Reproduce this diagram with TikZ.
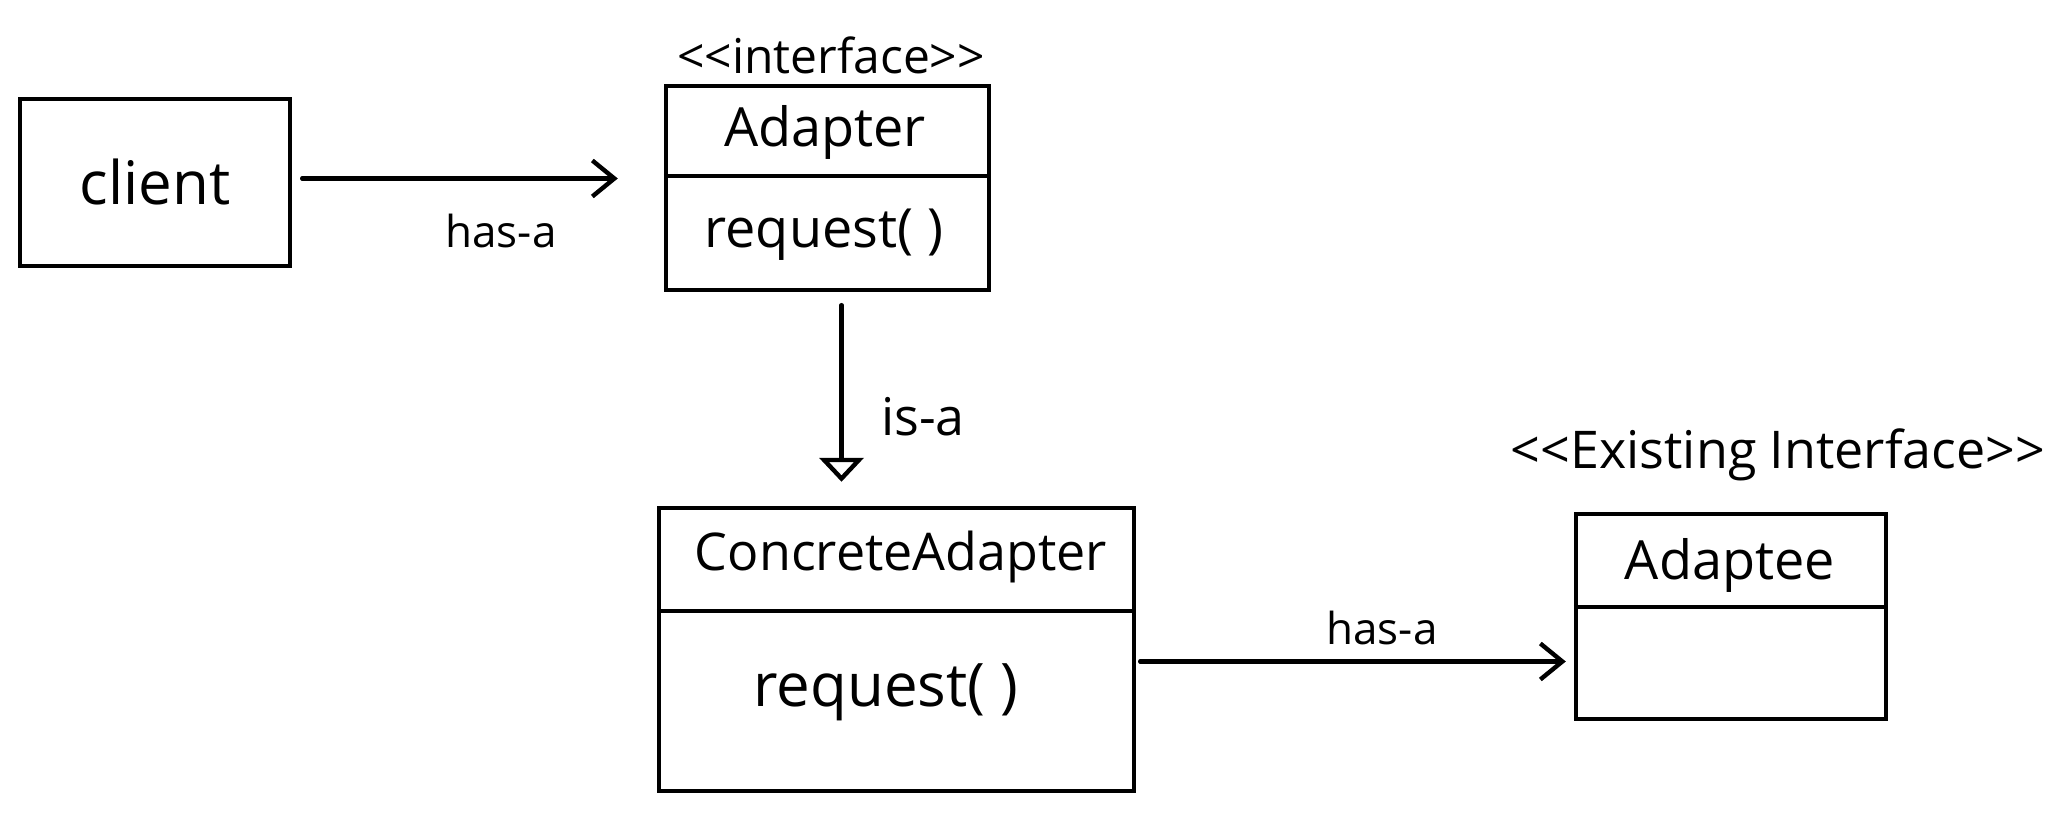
\documentclass[tikz,border=0pt]{standalone}
\usepackage{fontspec}
\setmainfont{Open Sans}
\usetikzlibrary{arrows.meta}

\tikzset{
  classbox/.style={draw, line width=2.2pt, inner sep=0pt},
  titletext/.style={font=\fontsize{27}{32}\selectfont, inner sep=1pt},
  methodtext/.style={font=\fontsize{27}{32}\selectfont, inner sep=1pt},
  stereotext/.style={font=\fontsize{24}{28}\selectfont, inner sep=1pt},
  reltext/.style={font=\fontsize{22}{26}\selectfont, inner sep=1pt},
  hasarrow/.style={line width=2.2pt, line cap=round, -{Straight Barb[length=11pt,width=18pt,line width=2.2pt]}},
  isarrow/.style={line width=2.2pt, line cap=round, -{Triangle[open,length=12pt,width=22pt,line width=2.2pt]}},
}

\begin{document}
\begin{tikzpicture}[x=0.5pt,y=0.5pt,yscale=-1,xscale=1]
	\useasboundingbox (0,0) rectangle (2068,822);
	
	% client
	\node [classbox, minimum width=135pt, minimum height=83.5pt, font=\fontsize{30}{34}\selectfont] (client) at (155,182.5) {client};
	
	% interface
	\node [classbox, minimum width=161.5pt, minimum height=102pt] (adapter) at (827.5,188) {};
	\draw [line width=2.2pt] ([yshift=46pt]adapter.north west) -- ([yshift=46pt]adapter.north east);
	\node [titletext] (adaptername) at (825,132) {Adapter};
	\node [methodtext] (adapterreq) at (824,235) {request( )};
	\node [stereotext] (adapterstereo) at (831,55) {<{}<interface>{}>};
	
	% concrete adapter
	\node [classbox, minimum width=237.5pt, minimum height=141.5pt] (concrete) at (896.5,649.5) {};
	\draw [line width=2.2pt] ([yshift=52.5pt]concrete.north west) -- ([yshift=52.5pt]concrete.north east);
	\node [titletext, font=\fontsize{26}{30}\selectfont] (concretename) at (901,557) {ConcreteAdapter};
	\node [methodtext, font=\fontsize{30}{34}\selectfont] (concretereq) at (886,692) {request( )};
	
	% adaptee
	\node [classbox, minimum width=155pt, minimum height=102.5pt] (adaptee) at (1731,616.5) {};
	\draw [line width=2.2pt] ([yshift=47.5pt]adaptee.north west) -- ([yshift=47.5pt]adaptee.north east);
	\node [titletext] (adapteename) at (1730,565) {Adaptee};
	\node [stereotext, font=\fontsize{26}{30}\selectfont] (adapteestereo) at (1778,455) {<{}<Existing Interface>{}>};
	
	% relations
	\draw [hasarrow] ([xshift=5pt,yshift=-2pt]client.east) -- ([xshift=-23pt,yshift=-2pt]client.east -| adapter.west);
	\node [reltext] (hasa1) at (501,231) {has-a};
	
	\draw [isarrow] ([xshift=7pt,yshift=6.5pt]adapter.south) -- ([xshift=7pt,yshift=-12pt]adapter.south |- concrete.north);
	\node [reltext, font=\fontsize{26}{30}\selectfont] (isa) at (923,417) {is-a};
	
	\draw [hasarrow] ([xshift=2pt,yshift=6pt]concrete.east) -- ([xshift=-4pt,yshift=6pt]concrete.east -| adaptee.west);
	\node [reltext] (hasa2) at (1382,628) {has-a};
	
\end{tikzpicture}
\end{document}
